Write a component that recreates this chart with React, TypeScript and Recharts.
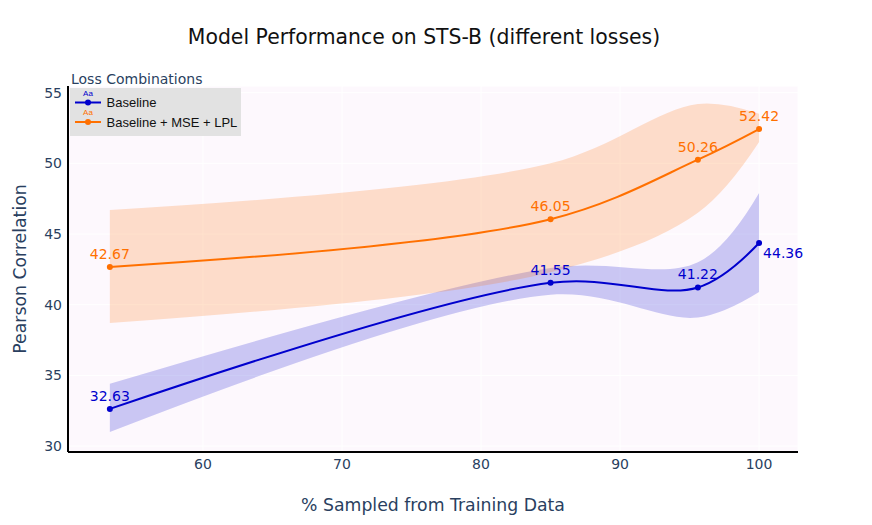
import React from "react";
import {
  Area,
  CartesianGrid,
  ComposedChart,
  LabelList,
  Line,
  XAxis,
  YAxis,
} from "recharts";

// % of training data used
const pctSampled: number[] = [53.3, 85, 95.6, 100];

// Baseline
const baseline: number[] = [32.63, 41.55, 41.22, 44.36];
const baselineLow: number[] = [31.0, 40.7, 39.1, 40.9];
const baselineHigh: number[] = [34.4, 42.6, 43.0, 47.9];

// Baseline + MSE + LPL
const combo: number[] = [42.67, 46.05, 50.26, 52.42];
const comboLow: number[] = [38.7, 42.3, 46.5, 51.5];
const comboHigh: number[] = [46.7, 50.0, 54.2, 53.5];

const xTicks: number[] = [60, 70, 80, 90, 100];
const yTicks: number[] = [30, 35, 40, 45, 50, 55];

const BLUE = "#0000cd";
const ORANGE = "#ff7000";
const AXIS_TEXT = "#2a3f5f";
const FONT = "'DejaVu Sans', Verdana, sans-serif";
const LEGEND_FONT = "'Liberation Sans', Arial, sans-serif";

const legendItems = [
  { name: "Baseline", color: BLUE },
  { name: "Baseline + MSE + LPL", color: ORANGE },
];

const rows = pctSampled.map((x, i) => ({
  x,
  baseline: baseline[i],
  baselineBand: [baselineLow[i], baselineHigh[i]],
  combo: combo[i],
  comboBand: [comboLow[i], comboHigh[i]],
}));

// spline like plotly's line.shape = "spline" (catmull-rom style tangents)
const tangent = (p0: number[], p1: number[], p2: number[]) => {
  const d1x = p0[0] - p1[0];
  const d1y = p0[1] - p1[1];
  const d2x = p2[0] - p1[0];
  const d2y = p2[1] - p1[1];
  const d1a = Math.pow(d1x * d1x + d1y * d1y, 0.25);
  const d2a = Math.pow(d2x * d2x + d2y * d2y, 0.25);
  const numx = d2a * d2a * d1x - d1a * d1a * d2x;
  const numy = d2a * d2a * d1y - d1a * d1a * d2y;
  const den1 = 3 * d2a * (d1a + d2a);
  const den2 = 3 * d1a * (d1a + d2a);
  return [
    [p1[0] + (den1 && numx / den1), p1[1] + (den1 && numy / den1)],
    [p1[0] - (den2 && numx / den2), p1[1] - (den2 && numy / den2)],
  ];
};

const splineCurve = (context: any) => {
  let pts: number[][] = [];
  let line = NaN;
  const draw = () => {
    if (!pts.length) return;
    const first = pts[0];
    if (line) context.lineTo(first[0], first[1]);
    else context.moveTo(first[0], first[1]);
    if (pts.length < 3) {
      for (let i = 1; i < pts.length; i++) context.lineTo(pts[i][0], pts[i][1]);
      return;
    }
    const tg: number[][][] = [];
    for (let i = 1; i < pts.length - 1; i++) tg.push(tangent(pts[i - 1], pts[i], pts[i + 1]));
    context.quadraticCurveTo(tg[0][0][0], tg[0][0][1], pts[1][0], pts[1][1]);
    for (let i = 2; i < pts.length - 1; i++) {
      context.bezierCurveTo(
        tg[i - 2][1][0], tg[i - 2][1][1],
        tg[i - 1][0][0], tg[i - 1][0][1],
        pts[i][0], pts[i][1]
      );
    }
    const last = tg[pts.length - 3][1];
    const end = pts[pts.length - 1];
    context.quadraticCurveTo(last[0], last[1], end[0], end[1]);
  };
  return {
    areaStart() {
      line = 0;
    },
    areaEnd() {
      line = NaN;
    },
    lineStart() {
      pts = [];
    },
    point(x: number, y: number) {
      pts.push([+x, +y]);
    },
    lineEnd() {
      draw();
      if (line) context.closePath();
      line = 1 - line;
    },
  };
};

const makeLabel = (color: string, lastBelowRight: boolean) => (props: any) => {
  const { x, y, value, index } = props;
  const last = lastBelowRight && index === rows.length - 1;
  return (
    <text
      x={last ? x + 4 : x}
      y={last ? y + 15 : y - 8}
      textAnchor={last ? "start" : "middle"}
      fill={color}
      fontSize={14}
      fontFamily={FONT}
    >
      {Number(value).toFixed(2)}
    </text>
  );
};

const App: React.FC = () => {
  return (
    <div
      style={{
        position: "absolute",
        left: 0,
        top: 0,
        width: 872,
        height: 525,
        background: "#fff",
      }}
    >
      <ComposedChart
        width={872}
        height={525}
        data={rows}
        margin={{ top: 86, right: 74, bottom: 43, left: 18 }}
      >
        <CartesianGrid stroke="#ffffff" fill="#fdf8fd" />
        <XAxis
          dataKey="x"
          type="number"
          domain={[50.29, 102.8]}
          ticks={xTicks}
          height={30}
          axisLine={{ stroke: "#000", strokeWidth: 2 }}
          tickLine={false}
          tickSize={0}
          tickMargin={7}
          tick={{ fill: AXIS_TEXT, fontSize: 14, fontFamily: FONT }}
          allowDataOverflow
        />
        <YAxis
          type="number"
          domain={[29.58, 55.47]}
          ticks={yTicks}
          width={50}
          axisLine={{ stroke: "#000", strokeWidth: 2 }}
          tickLine={false}
          tickSize={0}
          tickMargin={6}
          tick={{ fill: AXIS_TEXT, fontSize: 14, fontFamily: FONT }}
          allowDataOverflow
        />
        <Area
          dataKey="baselineBand"
          type={splineCurve as any}
          stroke="none"
          fill={BLUE}
          fillOpacity={0.2}
          isAnimationActive={false}
        />
        <Area
          dataKey="comboBand"
          type={splineCurve as any}
          stroke="none"
          fill={ORANGE}
          fillOpacity={0.2}
          isAnimationActive={false}
        />
        <Line
          dataKey="baseline"
          type={splineCurve as any}
          stroke={BLUE}
          strokeWidth={2}
          dot={{ r: 3, fill: BLUE, stroke: BLUE, strokeWidth: 0 }}
          isAnimationActive={false}
        >
          <LabelList dataKey="baseline" content={makeLabel(BLUE, true)} />
        </Line>
        <Line
          dataKey="combo"
          type={splineCurve as any}
          stroke={ORANGE}
          strokeWidth={2}
          dot={{ r: 3, fill: ORANGE, stroke: ORANGE, strokeWidth: 0 }}
          isAnimationActive={false}
        >
          <LabelList dataKey="combo" content={makeLabel(ORANGE, false)} />
        </Line>
      </ComposedChart>

      <svg
        width={872}
        height={525}
        style={{ position: "absolute", left: 0, top: 0, pointerEvents: "none" }}
      >
        <text x={424} y={44} textAnchor="middle" fontSize={20.4} fontFamily={FONT} fill="#111">
          Model Performance on STS-B (different losses)
        </text>
        <text x={433} y={511} textAnchor="middle" fontSize={17.3} fontFamily={FONT} fill={AXIS_TEXT}>
          % Sampled from Training Data
        </text>
        <text
          transform="translate(26,269) rotate(-90)"
          textAnchor="middle"
          fontSize={17.3}
          fontFamily={FONT}
          fill={AXIS_TEXT}
        >
          Pearson Correlation
        </text>

        {/* legend */}
        <text x={71} y={84} fontSize={14} fontFamily={FONT} fill={AXIS_TEXT}>
          Loss Combinations
        </text>
        <rect x={70} y={88} width={171} height={48} fill="#e2e2e2" />
        {legendItems.map((item, i) => {
          const cy = 102.5 + i * 19.5;
          return (
            <g key={item.name}>
              <text
                x={88}
                y={cy - 7}
                textAnchor="middle"
                fontSize={8}
                fontFamily={LEGEND_FONT}
                fill={item.color}
              >
                Aa
              </text>
              <line x1={75} x2={101} y1={cy} y2={cy} stroke={item.color} strokeWidth={2} />
              <circle cx={88} cy={cy} r={3} fill={item.color} />
              <text x={106.5} y={cy + 4.5} fontSize={13} fontFamily={LEGEND_FONT} fill="#111">
                {item.name}
              </text>
            </g>
          );
        })}
      </svg>
    </div>
  );
};

export default App;
